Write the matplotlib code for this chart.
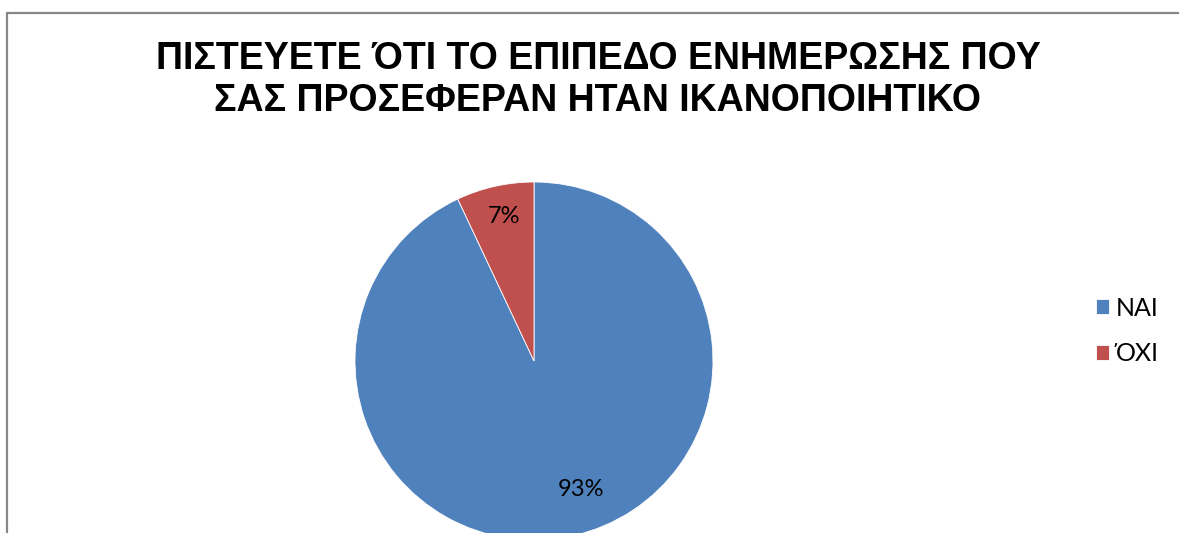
import matplotlib.pyplot as plt
from matplotlib.patches import Rectangle

# data
labels = ["ΝΑΙ", "ΌΧΙ"]
shares = [93, 7]
colors = ["#4F81BD", "#C0504D"]
title = "ΠΙΣΤΕΥΕΤΕ ΌΤΙ ΤΟ ΕΠΙΠΕΔΟ ΕΝΗΜΕΡΩΣΗΣ ΠΟΥ\nΣΑΣ ΠΡΟΣΕΦΕΡΑΝ ΗΤΑΝ ΙΚΑΝΟΠΟΙΗΤΙΚΟ"

W, H = 1179, 533
fig = plt.figure(figsize=(W / 100, H / 100), dpi=100)

# chart frame (only top and left edges visible, the rest is cropped)
fig.patches.append(Rectangle((7.5 / W, -0.1), 1.2, 1 - 12.5 / H + 0.1,
                             transform=fig.transFigure, fill=False,
                             edgecolor="#888888", linewidth=1.6))

# pie axes: centre (534, 361) px, radius 179 px
cx, cy, r = 534, 361, 179
ax = fig.add_axes([(cx - r) / W, (H - cy - r) / H, 2 * r / W, 2 * r / H])
wedges, _, autotexts = ax.pie(
    shares, colors=colors, startangle=90, counterclock=False,
    autopct="%d%%", pctdistance=0.8,
    wedgeprops=dict(edgecolor="white", linewidth=0.6),
    textprops=dict(family="Lato", fontsize=17, color="black"),
)
for w in wedges:
    w.set_clip_on(False)
# Excel "best fit" label spots
autotexts[0].set_position((0.26, -0.72))
autotexts[1].set_position((-0.17, 0.81))
ax.set_aspect("equal")
ax.set_xlim(-1, 1)
ax.set_ylim(-1, 1)
ax.axis("off")

fig.text(598 / W, 1 - 80 / H, title, ha="center", va="center",
         family="Liberation Sans", fontweight="bold", fontsize=27,
         linespacing=1.2)

fig.legend(wedges, labels, loc="center left",
           bbox_to_anchor=(1073 / W, 1 - 331 / H),
           frameon=False, prop=dict(family="Lato", size=18),
           handlelength=0.55, handleheight=0.55, handletextpad=0.25,
           labelspacing=0.9)

plt.savefig("out.png", dpi=100)
